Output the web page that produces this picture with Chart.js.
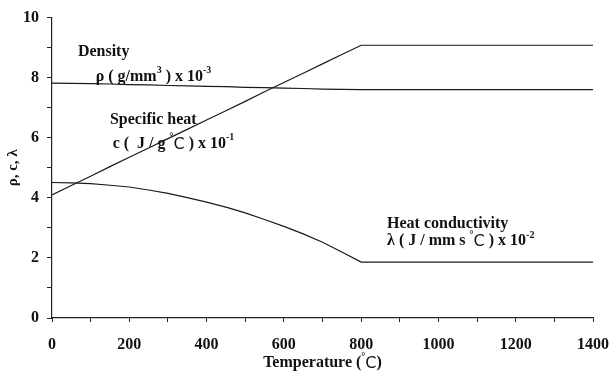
<!DOCTYPE html>
<html>
<head>
<meta charset="utf-8">
<script src="https://cdn.jsdelivr.net/npm/chart.js@4.4.0/dist/chart.umd.min.js"></script>
<style>
    html, body { margin: 0; padding: 0; background: #fff; }
    #wrap { width: 611px; height: 373px; }
</style>
</head>
<body>
<div id="wrap"><canvas id="grafico"></canvas></div>
<script>
// Dados
const temperaturas = [0, 50, 100, 150, 200, 250, 300, 350, 400, 450, 500, 550, 600, 650, 700, 750, 800, 1400];
const densidade = [7.82, 7.81, 7.80, 7.79, 7.77, 7.76, 7.74, 7.73, 7.71, 7.70, 7.68, 7.67, 7.65, 7.64, 7.62, 7.61, 7.6, 7.6];
const calorEspecifico = [4.1, 4.41, 4.72, 5.04, 5.35, 5.66, 5.97, 6.28, 6.59, 6.90, 7.21, 7.53, 7.84, 8.15, 8.46, 8.77, 9.08, 9.08];
const condutividade = [4.51, 4.50, 4.47, 4.42, 4.36, 4.26, 4.15, 4.01, 3.86, 3.69, 3.5, 3.28, 3.05, 2.80, 2.52, 2.20, 1.86, 1.86];
const ticksX = [0, 200, 400, 600, 800, 1000, 1200, 1400];
const ticksY = [0, 2, 4, 6, 8, 10];

const fonteSerif = '"Liberation Serif", "Times New Roman", serif';

// Rótulos das curvas (posições em coordenadas dos dados)
const rotulos = [
    { x: 67, y: 8.87, partes: [{ t: 'Density' }] },
    { x: 113, y: 8.04, partes: [{ t: 'ρ ( g/mm' }, { t: '3', sup: true }, { t: ' ) x 10' }, { t: '-3', sup: true }] },
    { x: 150, y: 6.58, partes: [{ t: 'Specific heat' }] },
    { x: 157, y: 5.81, partes: [{ t: 'c (  J / g ' }, { t: '°', sup: true }, { t: 'C', sans: true }, { t: ' ) x 10' }, { t: '-1', sup: true }] },
    { x: 867, y: 3.12, partes: [{ t: 'Heat conductivity' }] },
    { x: 867, y: 2.56, partes: [{ t: 'λ ( J / mm s ' }, { t: '°', sup: true }, { t: 'C', sans: true }, { t: ' ) x 10' }, { t: '-2', sup: true }] }
];
const tituloX = [{ t: 'Temperature (' }, { t: '°', sup: true }, { t: 'C', sans: true }, { t: ')' }];

function montarSerie(valores) {
    return temperaturas.map((t, i) => ({ x: t, y: valores[i] }));
}

function larguraPartes(ctx, partes) {
    let w = 0;
    partes.forEach(p => {
        ctx.font = fontePara(p);
        w += ctx.measureText(p.t).width;
    });
    return w;
}

function fontePara(p) {
    if (p.sup) return 'bold 10px ' + fonteSerif;
    if (p.sans) return '16px "DejaVu Sans", sans-serif';
    return 'bold 16px ' + fonteSerif;
}

function desenharPartes(ctx, partes, px, py) {
    partes.forEach(p => {
        ctx.font = fontePara(p);
        let dy = 0;
        if (p.sup) dy = -6;
        if (p.sans) dy = 1;
        ctx.fillText(p.t, px, py + dy);
        px += ctx.measureText(p.t).width;
    });
}

const pluginRotulos = {
    id: 'rotulos',
    afterDatasetsDraw(chart) {
        const ctx = chart.ctx;
        const sx = chart.scales.x;
        const sy = chart.scales.y;
        ctx.save();
        ctx.fillStyle = '#111';
        ctx.textBaseline = 'middle';
        ctx.textAlign = 'left';
        rotulos.forEach(r => {
            desenharPartes(ctx, r.partes, sx.getPixelForValue(r.x), sy.getPixelForValue(r.y));
        });
        // título do eixo x
        const area = chart.chartArea;
        const w = larguraPartes(ctx, tituloX);
        desenharPartes(ctx, tituloX, (area.left + area.right) / 2 - w / 2, sx.bottom - 10);
        ctx.restore();
    }
};

const estiloLinha = {
    borderColor: '#1a1a1a',
    borderWidth: 1.2,
    pointRadius: 0,
    fill: false
};

const ctxGrafico = document.getElementById('grafico').getContext('2d');
const grafico = new Chart(ctxGrafico, {
    type: 'line',
    data: {
        datasets: [
            Object.assign({ label: 'Density', data: montarSerie(densidade) }, estiloLinha),
            Object.assign({ label: 'Specific heat', data: montarSerie(calorEspecifico) }, estiloLinha),
            Object.assign({ label: 'Heat conductivity', data: montarSerie(condutividade) }, estiloLinha)
        ]
    },
    options: {
        responsive: true,
        maintainAspectRatio: false,
        animation: false,
        layout: { padding: { top: 17, right: 0, left: 0, bottom: 0 } },
        plugins: {
            legend: { display: false },
            tooltip: { enabled: false }
        },
        scales: {
            x: {
                type: 'linear',
                min: 0,
                max: 1400,
                afterFit(scale) {
                    scale.height = 55;
                    scale.paddingRight = 18;
                },
                afterBuildTicks(scale) {
                    const lista = [];
                    for (let v = 0; v <= 1400; v += 100) lista.push({ value: v });
                    scale.ticks = lista;
                },
                ticks: {
                    autoSkip: false,
                    maxRotation: 0,
                    padding: 13,
                    color: '#111',
                    font: { family: fonteSerif, size: 16, weight: 'bold' },
                    callback: v => ticksX.includes(v) ? String(v) : ''
                },
                grid: {
                    drawOnChartArea: false,
                    drawTicks: true,
                    tickLength: 4,
                    color: '#222'
                },
                border: { color: '#222', width: 1.2 }
            },
            y: {
                min: 0,
                max: 10,
                afterFit(scale) { scale.width = 52; },
                afterBuildTicks(scale) {
                    const lista = [];
                    for (let v = 0; v <= 10; v += 1) lista.push({ value: v });
                    scale.ticks = lista;
                },
                ticks: {
                    autoSkip: false,
                    padding: 8,
                    color: '#111',
                    font: { family: fonteSerif, size: 16, weight: 'bold' },
                    callback: v => ticksY.includes(v) ? String(v) : ''
                },
                grid: {
                    drawOnChartArea: false,
                    drawTicks: true,
                    tickLength: 5,
                    color: '#222'
                },
                border: { color: '#222', width: 1.2 },
                title: {
                    display: true,
                    text: 'ρ, c, λ',
                    color: '#111',
                    font: { family: fonteSerif, size: 15, weight: 'bold' },
                    padding: { top: 4, bottom: 0 }
                }
            }
        }
    },
    plugins: [pluginRotulos]
});
</script>
</body>
</html>
